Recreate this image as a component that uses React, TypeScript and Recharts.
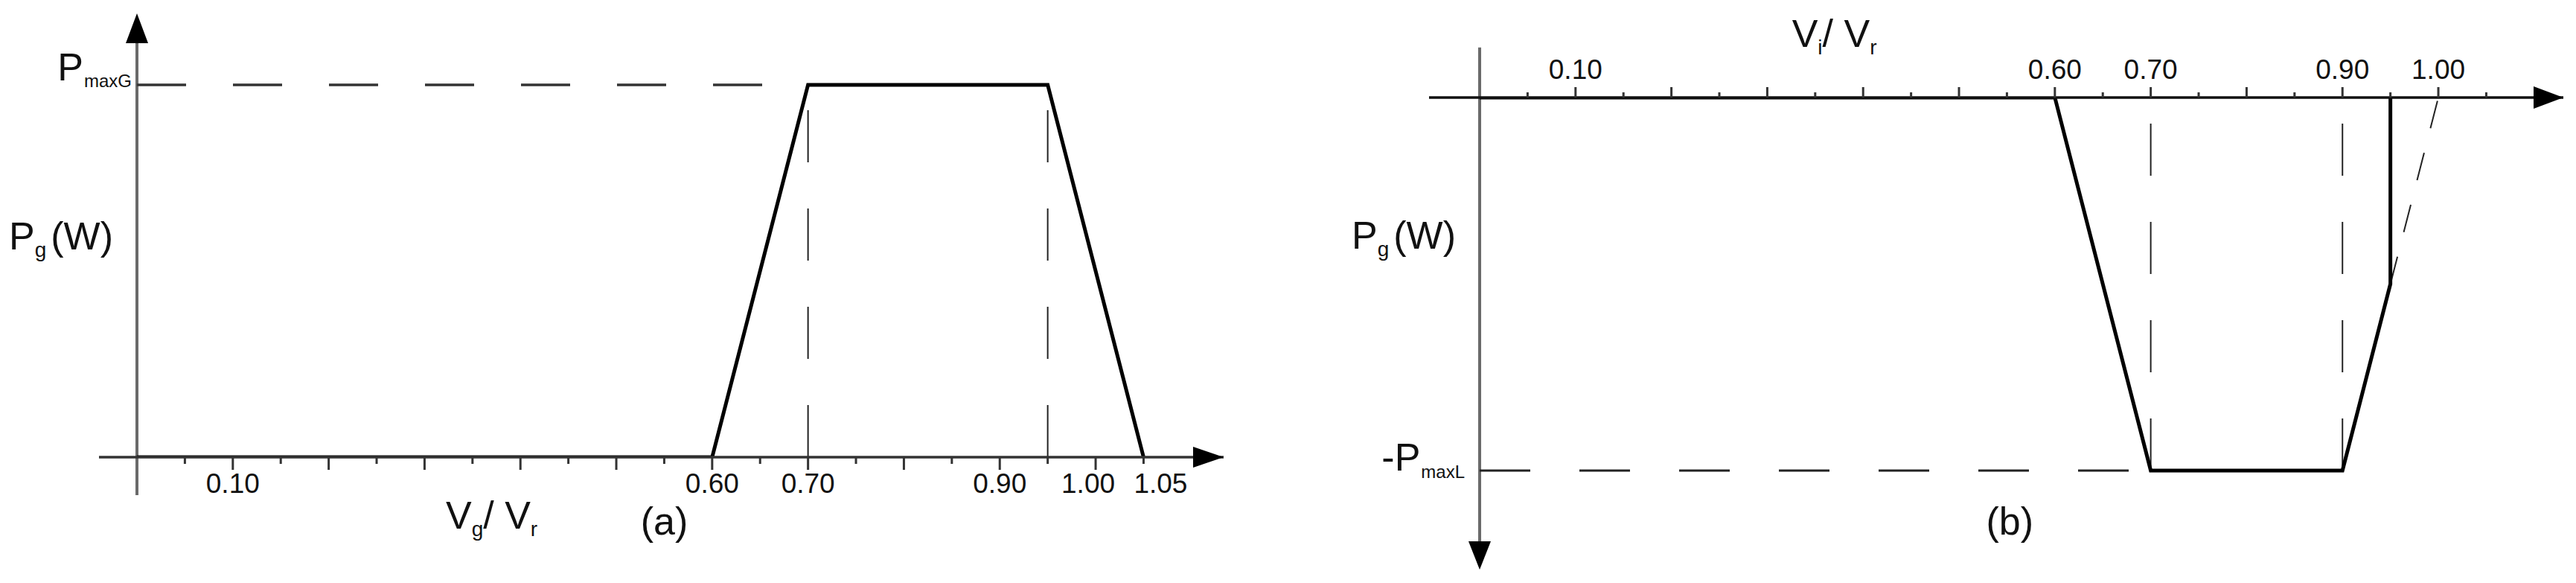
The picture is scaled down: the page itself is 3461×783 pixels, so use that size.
import React from "react";
import { LineChart, Line, XAxis, YAxis, ReferenceLine, ReferenceDot } from "recharts";

// ---------- data ----------
const genCurve = [
  { x: 0, y: 0 },
  { x: 0.6, y: 0 },
  { x: 0.7, y: 1 },
  { x: 0.95, y: 1 },
  { x: 1.05, y: 0 },
];
const genDashH = [
  { x: 0, y: 1 },
  { x: 0.7, y: 1 },
];
const genDashV1 = [
  { x: 0.7, y: 0 },
  { x: 0.7, y: 1 },
];
const genDashV2 = [
  { x: 0.95, y: 0 },
  { x: 0.95, y: 1 },
];

const loadCurve = [
  { x: 0, y: 0 },
  { x: 0.6, y: 0 },
  { x: 0.7, y: -1 },
  { x: 0.9, y: -1 },
  { x: 0.95, y: -0.5 },
  { x: 0.95, y: 0 },
];
const loadDashH = [
  { x: 0, y: -1 },
  { x: 0.7, y: -1 },
];
const loadDashV1 = [
  { x: 0.7, y: -1 },
  { x: 0.7, y: 0 },
];
const loadDashV2 = [
  { x: 0.9, y: -1 },
  { x: 0.9, y: 0 },
];
const loadDashSlope = [
  { x: 0.95, y: -0.5 },
  { x: 1.0, y: 0 },
];

const xTicks = [0.05, 0.1, 0.15, 0.2, 0.25, 0.3, 0.35, 0.4, 0.45, 0.5, 0.55, 0.6, 0.65, 0.7, 0.75, 0.8, 0.85, 0.9, 0.95, 1.0, 1.05];
const genTickLabels = ["0.10", "0.60", "0.70", "0.90", "1.00", "1.05"];
const loadTickLabels = ["0.10", "0.60", "0.70", "0.90", "1.00"];

const genXDomain: [number, number] = [-0.0396, 1.1335];
const genYDomain: [number, number] = [0, 1.192];
const loadXDomain: [number, number] = [-0.0528, 1.1304];
const loadYDomain: [number, number] = [-1.2655, 0];

// ---------- styles ----------
const FONT = "'Liberation Sans', Arial, Helvetica, sans-serif";
const TXT = "#111";
const AXIS = "#333";
const YAXIS = "#6a6a6a";

function makeTick(orient: "bottom" | "top", labels: string[], major: number, minor: number, shift: Record<string, number>) {
  return (props: any) => {
    const { x, y, payload } = props;
    const v = payload.value as number;
    const isMajor = Math.round(v * 100) % 10 === 0;
    const len = isMajor ? major : minor;
    const sign = orient === "bottom" ? 1 : -1;
    const lab = v.toFixed(2);
    const show = labels.includes(lab);
    return (
      <g>
        <line x1={x} x2={x} y1={y} y2={y + sign * len} stroke={AXIS} strokeWidth={3} />
        {show && (
          <text
            x={x + (shift[lab] || 0)}
            y={orient === "bottom" ? y + 48 : y - 25}
            textAnchor="middle"
            fontSize={37}
            fill={TXT}
            fontFamily={FONT}
          >
            {lab}
          </text>
        )}
      </g>
    );
  };
}

const arrowShape = (dir: "up" | "down" | "right", len: number, half: number) => (p: any) => {
  const { cx, cy } = p;
  let pts = "";
  if (dir === "up") pts = `${cx},${cy} ${cx - half},${cy + len} ${cx + half},${cy + len}`;
  if (dir === "down") pts = `${cx},${cy} ${cx - half},${cy - len} ${cx + half},${cy - len}`;
  if (dir === "right") pts = `${cx},${cy} ${cx - len},${cy - half} ${cx - len},${cy + half}`;
  return <polygon points={pts} fill="#000" />;
};

const textShape = (render: (cx: number, cy: number) => React.ReactElement) => (p: any) => render(p.cx, p.cy);

const sub = (s: string, size: number, drop: number) => (
  <tspan fontSize={size} dy={drop}>
    {s}
  </tspan>
);

function GenChart() {
  return (
    <LineChart width={1730} height={783} margin={{ top: 18, left: 133, right: 86, bottom: 109 }}>
      <XAxis
        dataKey="x"
        type="number"
        domain={genXDomain}
        allowDataOverflow
        ticks={xTicks}
        interval={0}
        height={60}
        tickSize={0}
        tickMargin={0}
        tickLine={false}
        axisLine={{ stroke: AXIS, strokeWidth: 3.5 }}
        tick={makeTick("bottom", genTickLabels, 17, 9, { "1.00": -10, "1.05": 23 })}
      />
      <YAxis hide type="number" domain={genYDomain} allowDataOverflow />
      <ReferenceLine
        segment={[{ x: 0, y: -0.102 }, { x: 0, y: 1.115 }]}
        stroke={YAXIS}
        strokeWidth={4}
        ifOverflow="visible"
      />
      <Line data={genDashH} dataKey="y" stroke="#333" strokeWidth={3.5} strokeDasharray="66 63" dot={false} activeDot={false} isAnimationActive={false} />
      <Line data={genDashV1} dataKey="y" stroke="#222" strokeWidth={2} strokeDasharray="70 62" dot={false} activeDot={false} isAnimationActive={false} />
      <Line data={genDashV2} dataKey="y" stroke="#222" strokeWidth={2} strokeDasharray="70 62" dot={false} activeDot={false} isAnimationActive={false} />
      <Line data={genCurve} dataKey="y" stroke="#000" strokeWidth={5} strokeLinejoin="miter" dot={false} activeDot={false} isAnimationActive={false} />
      <ReferenceDot x={0} y={1.192} ifOverflow="visible" shape={arrowShape("up", 40, 15)} />
      <ReferenceDot x={1.1335} y={0} ifOverflow="visible" shape={arrowShape("right", 41, 14)} />
      <ReferenceDot
        x={0}
        y={1}
        ifOverflow="visible"
        shape={textShape((cx, cy) => (
          <text x={cx - 7} y={cy - 6} textAnchor="end" fontSize={52} fill={TXT} fontFamily={FONT}>
            P
            <tspan fontSize={24} dx={1} dy={9}>
              maxG
            </tspan>
          </text>
        ))}
      />
      <ReferenceDot
        x={0}
        y={0.5}
        ifOverflow="visible"
        shape={textShape((cx, cy) => (
          <text x={cx - 32} y={cy - 29} textAnchor="end" fontSize={52} fill={TXT} fontFamily={FONT}>
            P{sub("g", 28, 10)}
            <tspan fontSize={52} dy={-10} dx={6}>
              (W)
            </tspan>
          </text>
        ))}
      />
      <ReferenceDot
        x={0.37}
        y={0}
        ifOverflow="visible"
        shape={textShape((cx, cy) => (
          <text x={cx} y={cy + 96} textAnchor="middle" fontSize={52} fill={TXT} fontFamily={FONT}>
            V{sub("g", 28, 10)}
            <tspan fontSize={52} dy={-10}>
              / V
            </tspan>
            {sub("r", 28, 10)}
          </text>
        ))}
      />
      <ReferenceDot
        x={0.55}
        y={0}
        ifOverflow="visible"
        shape={textShape((cx, cy) => (
          <text x={cx} y={cy + 104} textAnchor="middle" fontSize={52} fill={TXT} fontFamily={FONT}>
            (a)
          </text>
        ))}
      />
    </LineChart>
  );
}

function LoadChart() {
  return (
    <LineChart width={1731} height={783} margin={{ top: 71, left: 190, right: 17, bottom: 18 }}>
      <XAxis
        dataKey="x"
        type="number"
        orientation="top"
        domain={loadXDomain}
        allowDataOverflow
        ticks={xTicks}
        interval={0}
        height={60}
        tickSize={0}
        tickMargin={0}
        tickLine={false}
        axisLine={{ stroke: "#111", strokeWidth: 3.5 }}
        tick={makeTick("top", loadTickLabels, 14, 7, {})}
      />
      <YAxis hide type="number" domain={loadYDomain} allowDataOverflow />
      <ReferenceLine
        segment={[{ x: 0, y: 0.134 }, { x: 0, y: -1.19 }]}
        stroke={YAXIS}
        strokeWidth={4}
        ifOverflow="visible"
      />
      <Line data={loadDashH} dataKey="y" stroke="#222" strokeWidth={3} strokeDasharray="68 66" dot={false} activeDot={false} isAnimationActive={false} />
      <Line data={loadDashV1} dataKey="y" stroke="#222" strokeWidth={2} strokeDasharray="70 62" dot={false} activeDot={false} isAnimationActive={false} />
      <Line data={loadDashV2} dataKey="y" stroke="#222" strokeWidth={2} strokeDasharray="70 62" dot={false} activeDot={false} isAnimationActive={false} />
      <Line data={loadDashSlope} dataKey="y" stroke="#222" strokeWidth={2} strokeDasharray="38 34" dot={false} activeDot={false} isAnimationActive={false} />
      <Line data={loadCurve} dataKey="y" stroke="#000" strokeWidth={5} strokeLinejoin="miter" dot={false} activeDot={false} isAnimationActive={false} />
      <ReferenceDot x={0} y={-1.2655} ifOverflow="visible" shape={arrowShape("down", 38, 15)} />
      <ReferenceDot x={1.1304} y={0} ifOverflow="visible" shape={arrowShape("right", 40, 15)} />
      <ReferenceDot
        x={0.37}
        y={0}
        ifOverflow="visible"
        shape={textShape((cx, cy) => (
          <text x={cx} y={cy - 68} textAnchor="middle" fontSize={52} fill={TXT} fontFamily={FONT}>
            V{sub("i", 28, 10)}
            <tspan fontSize={52} dy={-10}>
              / V
            </tspan>
            {sub("r", 28, 10)}
          </text>
        ))}
      />
      <ReferenceDot
        x={0}
        y={-0.5}
        ifOverflow="visible"
        shape={textShape((cx, cy) => (
          <text x={cx - 32} y={cy - 47} textAnchor="end" fontSize={52} fill={TXT} fontFamily={FONT}>
            P{sub("g", 28, 10)}
            <tspan fontSize={52} dy={-10} dx={6}>
              (W)
            </tspan>
          </text>
        ))}
      />
      <ReferenceDot
        x={0}
        y={-1}
        ifOverflow="visible"
        shape={textShape((cx, cy) => (
          <text x={cx - 20} y={cy} textAnchor="end" fontSize={52} fill={TXT} fontFamily={FONT}>
            -P
            <tspan fontSize={24} dx={1} dy={10}>
              maxL
            </tspan>
          </text>
        ))}
      />
      <ReferenceDot
        x={0.553}
        y={-1.2655}
        ifOverflow="visible"
        shape={textShape((cx, cy) => (
          <text x={cx} y={cy - 47} textAnchor="middle" fontSize={52} fill={TXT} fontFamily={FONT}>
            (b)
          </text>
        ))}
      />
    </LineChart>
  );
}

export default function App() {
  return (
    <div style={{ position: "absolute", left: 0, top: 0, width: 3461, height: 783, background: "#fff", display: "flex" }}>
      <GenChart />
      <LoadChart />
    </div>
  );
}
